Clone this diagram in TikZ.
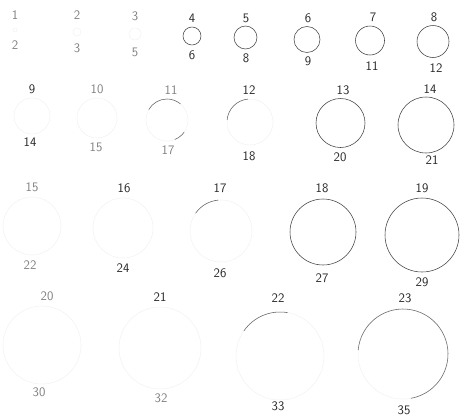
\documentclass[tikz,border=0pt]{standalone}
\usepackage{tikz}
\usetikzlibrary{positioning}

\begin{document}
\begin{tikzpicture}[x=1pt, y=-1pt,
    ring/.style={circle, draw=black!75, line width=0.55pt, inner sep=0pt, outer sep=0pt},
    faded/.style={circle, draw=black!5, line width=0.55pt, inner sep=0pt, outer sep=0pt},
    trace/.style={draw=black!60, line width=0.55pt},
    num/.style={font=\sffamily\fontsize{13}{13}\selectfont, text=black!85, inner sep=1pt},
    pale/.style={num, text=black!50}]
    \useasboundingbox (0,0) rectangle (460,418);

    % Row 1
    \node[faded, minimum size=4pt] (c1) at (15,30) {};
    \node[faded, minimum size=8pt] (c2) at (77,32) {};
    \node[faded, minimum size=12pt] (c3) at (135,34) {};
    \node[ring, minimum size=18pt] (c4) at (192,36) {};
    \node[ring, minimum size=23pt] (c5) at (245.5,37.5) {};
    \node[ring, minimum size=26pt] (c6) at (307,39.5) {};
    \node[ring, minimum size=29pt] (c7) at (370,40.5) {};
    \node[ring, minimum size=32pt] (c8) at (433,41.5) {};

    \node[pale] (t1) at (15,15) {1};   \node[pale] (b1) at (15,45) {2};
    \node[pale] (t2) at (77,15) {2};   \node[pale] (b2) at (77,48) {3};
    \node[pale] (t3) at (135,16) {3};  \node[pale] (b3) at (135,52) {5};
    \node[num] (t4) at (192,18) {4};   \node[num] (b4) at (192,55) {6};
    \node[num] (t5) at (246,18) {5};   \node[num] (b5) at (246,58) {8};
    \node[num] (t6) at (308,18) {6};   \node[num] (b6) at (308,61) {9};
    \node[num] (t7) at (373,17) {7};   \node[num] (b7) at (372,66) {11};
    \node[num] (t8) at (434,17) {8};   \node[num] (b8) at (436,68) {12};

    % Row 2
    \node[faded, minimum size=36pt] (c9) at (32,116) {};
    \node[faded, minimum size=40pt] (c10) at (97,118) {};
    \node[faded, minimum size=42pt] (c11) at (167,120) {};
    \node[faded, minimum size=46pt] (c12) at (250,122) {};
    \node[ring, minimum size=49pt] (c13) at (340.5,123) {};
    \node[ring, minimum size=56pt] (c14) at (426,125) {};
    \draw[trace] (c11.150) arc[start angle=150, end angle=50, radius=21pt];
    \draw[trace] (c11.-35) arc[start angle=-35, end angle=-68, radius=21pt];
    \draw[trace] (c12.175) arc[start angle=175, end angle=95, radius=23pt];

    \node[num] (t9) at (32,89) {9};     \node[num] (b9) at (30,142) {14};
    \node[pale] (t10) at (97,89) {10};  \node[pale] (b10) at (96,147) {15};
    \node[pale] (t11) at (171,90) {11}; \node[pale] (b11) at (168,150) {17};
    \node[num] (t12) at (249,90) {12};  \node[num] (b12) at (249,156) {18};
    \node[num] (t13) at (343,90) {13};  \node[num] (b13) at (340,157) {20};
    \node[num] (t14) at (430,89) {14};  \node[num] (b14) at (432,160) {21};

    % Row 3
    \node[faded, minimum size=58pt] (c15) at (32,226) {};
    \node[faded, minimum size=60pt] (c16) at (123,228) {};
    \node[faded, minimum size=62pt] (c17) at (221,231) {};
    \node[ring, minimum size=66pt] (c18) at (323,232) {};
    \node[ring, minimum size=74pt] (c19) at (422,235) {};
    \draw[trace] (c17.145) arc[start angle=145, end angle=95, radius=31pt];

    \node[pale] (t15) at (32,187) {15};  \node[pale] (b15) at (30,265) {22};
    \node[num] (t16) at (124,188) {16};  \node[num] (b16) at (123,268) {24};
    \node[num] (t17) at (220,188) {17};  \node[num] (b17) at (220,273) {26};
    \node[num] (t18) at (322,188) {18};  \node[num] (b18) at (322,278) {27};
    \node[num] (t19) at (422,188) {19};  \node[num] (b19) at (422,282) {29};

    % Row 4
    \node[faded, minimum size=78pt] (c20) at (42,345) {};
    \node[faded, minimum size=82pt] (c21) at (160,348) {};
    \node[faded, minimum size=88pt] (c22) at (280,356) {};
    \node[faded, minimum size=90pt] (c23) at (403,354) {};
    \draw[trace] (c22.145) arc[start angle=145, end angle=80, radius=44pt];
    \draw[trace] (c23.175) arc[start angle=175, end angle=-80, radius=45pt];

    \node[pale] (t20) at (47,296) {20};  \node[pale] (b20) at (39,392) {30};
    \node[num] (t21) at (160,297) {21};  \node[pale] (b21) at (161,398) {32};
    \node[num] (t22) at (278,298) {22};  \node[num] (b22) at (278,406) {33};
    \node[num] (t23) at (405,298) {23};  \node[num] (b23) at (404,410) {35};
\end{tikzpicture}
\end{document}
